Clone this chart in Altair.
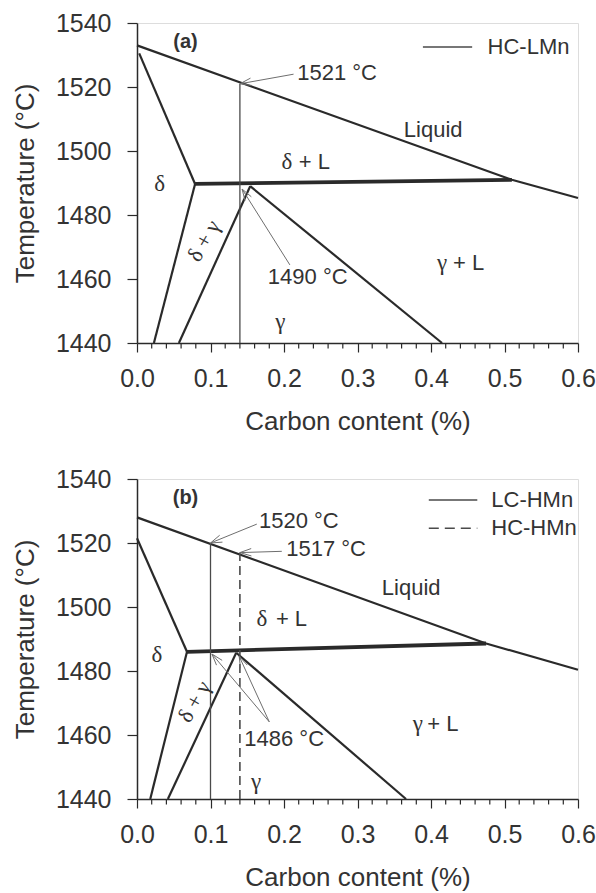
import math
import altair as alt
import pandas as pd

# ---- axes ---------------------------------------------------------------
C_MIN, C_MAX = 0.0, 0.6
T_MIN, T_MAX = 1440, 1540
PLOT_W, PLOT_H = 441, 320
X_MAJOR = [0.0, 0.1, 0.2, 0.3, 0.4, 0.5, 0.6]
X_MINOR = [0.02, 0.04, 0.06, 0.08, 0.12, 0.14, 0.16, 0.18, 0.22, 0.24, 0.26, 0.28,
           0.32, 0.34, 0.36, 0.38, 0.42, 0.44, 0.46, 0.48, 0.52, 0.54, 0.56, 0.58]
MINOR_TICK_DEPTH = 1.7  # in °C below the axis
Y_TICKS = [1440, 1450, 1460, 1470, 1480, 1490, 1500, 1510, 1520, 1530, 1540]

SANS = "Liberation Sans"
SERIF = "Liberation Serif"
INK = "#2a2a2a"
TEXT = "#333333"
THIN = "#6e6e6e"

# ---- panel (a): HC-LMn --------------------------------------------------
a_liquidus = [(0.0, 1533.0), (0.51, 1491.0), (0.6, 1485.3)]
a_delta_solidus = [(0.003, 1530.5), (0.079, 1489.7)]
a_delta_gamma_left = [(0.079, 1489.7), (0.023, 1440.0)]
a_delta_gamma_right = [(0.154, 1489.0), (0.057, 1440.0)]
a_gamma_solidus = [(0.154, 1489.0), (0.415, 1440.0)]
a_peritectic = [(0.079, 1489.7), (0.51, 1491.0)]
a_steels = [0.14]
a_steel_liquidus = [1521]
a_steel_dash = [False]
a_legend_names = ["HC-LMn"]
a_legend_t = [1532.5]

# ---- panel (b): LC-HMn and HC-HMn ---------------------------------------
b_liquidus = [(0.0, 1528.0), (0.475, 1488.6), (0.6, 1480.4)]
b_delta_solidus = [(0.0, 1521.5), (0.068, 1486.0)]
b_delta_gamma_left = [(0.068, 1486.0), (0.018, 1440.0)]
b_delta_gamma_right = [(0.135, 1485.7), (0.042, 1440.0)]
b_gamma_solidus = [(0.135, 1485.7), (0.366, 1440.0)]
b_peritectic = [(0.068, 1486.0), (0.475, 1488.6)]
b_steels = [0.10, 0.14]
b_steel_liquidus = [1520, 1517]
b_steel_dash = [False, True]
b_legend_names = ["LC-HMn", "HC-HMn"]
b_legend_t = [1533.4, 1524.6]

# value call-outs: text, text anchor (c, T), arrow tail, arrow heads
a_callouts = [
    ("1521 °C", (0.218, 1524.4), (0.213, 1524.0), [(0.14, 1521.0)]),
    ("1490 °C", (0.178, 1460.6), (0.208, 1464.4), [(0.143, 1488.1)]),
]
b_callouts = [
    ("1520 °C", (0.166, 1526.8), (0.163, 1525.9), [(0.10, 1520.0)]),
    ("1517 °C", (0.203, 1518.0), (0.197, 1517.4), [(0.14, 1517.0)]),
    ("1486 °C", (0.146, 1458.8), (0.180, 1464.1), [(0.102, 1485.3), (0.139, 1484.6)]),
]

# phase-field labels: (text, c, T)
a_centre_labels = [("Liquid", 0.403, 1506.6)]
a_sans_labels = [("+ L", 0.220, 1496.6), ("+ L", 0.430, 1465.0)]
a_greek_labels = [("δ", 0.204, 1496.6), ("δ", 0.031, 1489.7), ("γ", 0.195, 1446.6), ("γ", 0.415, 1465.0)]
a_rotated_labels = [("δ + γ", 0.091, 1471.9)]
b_centre_labels = [("Liquid", 0.373, 1505.8)]
b_sans_labels = [("+ L", 0.189, 1496.4), ("+ L", 0.395, 1463.5)]
b_greek_labels = [("δ", 0.170, 1496.4), ("δ", 0.027, 1485.1), ("γ", 0.162, 1445.3), ("γ", 0.382, 1463.5)]
b_rotated_labels = [("δ + γ", 0.078, 1470.4)]

PX_PER_C = PLOT_W / (C_MAX - C_MIN)
PX_PER_T = PLOT_H / (T_MAX - T_MIN)


def arrow_segments(tail, head, key):
    """Shaft plus an open V head, returned as (seg, order, c, t) rows."""
    rows = [(f"{key}s", 0, tail[0], tail[1]), (f"{key}s", 1, head[0], head[1])]
    dx = (tail[0] - head[0]) * PX_PER_C
    dy = -(tail[1] - head[1]) * PX_PER_T
    length = math.hypot(dx, dy)
    ux, uy = dx / length, dy / length
    for k, sign in enumerate((1, -1)):
        ang = math.radians(18) * sign
        rx = ux * math.cos(ang) - uy * math.sin(ang)
        ry = ux * math.sin(ang) + uy * math.cos(ang)
        px, py = rx * 12, ry * 12
        rows.append((f"{key}h{k}", 0, head[0], head[1]))
        rows.append((f"{key}h{k}", 1, head[0] + px / PX_PER_C, head[1] - py / PX_PER_T))
    return rows


def lines_frame(named):
    rows = []
    for name, pts in named.items():
        for i, (c, t) in enumerate(pts):
            rows.append({"seg": name, "i": i, "c": c, "t": t})
    return pd.DataFrame(rows)


def x_enc():
    return alt.X(
        "c:Q",
        scale=alt.Scale(domain=[C_MIN, C_MAX], nice=False, zero=False),
        axis=alt.Axis(
            title="Carbon content (%)", values=X_MAJOR, format=".1f",
            labelFontSize=25, titleFontSize=26, labelFont=SANS, titleFont=SANS,
            labelColor=TEXT, titleColor=TEXT, titleFontWeight="normal",
            tickSize=9, tickColor=INK, domainColor=INK, domainWidth=1.5, tickWidth=1.2,
            labelPadding=14, titlePadding=17, grid=False, labelFlush=False,
            labelOverlap=False,
        ),
    )


def y_enc():
    return alt.Y(
        "t:Q",
        scale=alt.Scale(domain=[T_MIN, T_MAX], nice=False, zero=False),
        axis=alt.Axis(
            title="Temperature (°C)", values=Y_TICKS, format="d",
            labelExpr="datum.value % 20 == 0 ? datum.label : ''",
            labelFontSize=25, titleFontSize=26, labelFont=SANS, titleFont=SANS,
            labelColor=TEXT, titleColor=TEXT, titleFontWeight="normal",
            tickSize=10, tickColor=INK, domainColor=INK, domainWidth=1.5, tickWidth=1.2,
            labelPadding=16, titlePadding=17, grid=False, labelFlush=False,
            labelOverlap=False,
        ),
    )


def panel(tag, boundaries, peritectic, steels, steel_liq, steel_dash,
          legend_names, legend_t, legend_c, callouts, centre_labels, sans_labels,
          greek_labels, rotated_labels):
    bnd = alt.Chart(lines_frame(boundaries)).mark_line(
        color=INK, strokeWidth=2.2).encode(x=x_enc(), y=y_enc(), detail="seg:N", order="i:Q")

    per = alt.Chart(lines_frame({"p": peritectic})).mark_line(
        color=INK, strokeWidth=3.8).encode(x="c:Q", y="t:Q", order="i:Q")

    steel_df = pd.DataFrame({"c": steels, "t0": [T_MIN] * len(steels),
                             "t": steel_liq, "dash": steel_dash})
    solid_steel = alt.Chart(steel_df[~steel_df.dash]).mark_rule(
        color="#4a4a4a", strokeWidth=1.3).encode(x="c:Q", y="t0:Q", y2="t:Q")
    dash_steel = alt.Chart(steel_df[steel_df.dash]).mark_rule(
        color="#4a4a4a", strokeWidth=1.6, strokeDash=[9, 5]).encode(x="c:Q", y="t0:Q", y2="t:Q")

    arrow_rows = []
    for n, (_, _, tail, heads) in enumerate(callouts):
        for m, head in enumerate(heads):
            arrow_rows += arrow_segments(tail, head, f"a{n}{m}")
    arr_df = pd.DataFrame(arrow_rows, columns=["seg", "i", "c", "t"])
    arrows = alt.Chart(arr_df).mark_line(color=THIN, strokeWidth=1).encode(
        x="c:Q", y="t:Q", detail="seg:N", order="i:Q")

    call_df = pd.DataFrame({"txt": [c[0] for c in callouts],
                            "c": [c[1][0] for c in callouts],
                            "t": [c[1][1] for c in callouts]})
    call_txt = alt.Chart(call_df).mark_text(
        align="left", baseline="middle", font=SANS, fontSize=22, color=TEXT
    ).encode(x="c:Q", y="t:Q", text="txt:N")

    leg_df = pd.DataFrame({"name": legend_names, "t": legend_t,
                           "c0": [legend_c[0]] * len(legend_names),
                           "c1": [legend_c[1]] * len(legend_names),
                           "ct": [legend_c[2]] * len(legend_names),
                           "dash": list(steel_dash)})
    leg_solid = alt.Chart(leg_df[~leg_df.dash]).mark_rule(
        color="#4a4a4a", strokeWidth=1.5).encode(x="c0:Q", x2="c1:Q", y="t:Q")
    leg_dash = alt.Chart(leg_df[leg_df.dash]).mark_rule(
        color="#4a4a4a", strokeWidth=1.5, strokeDash=[10, 6]).encode(x="c0:Q", x2="c1:Q", y="t:Q")
    leg_txt = alt.Chart(leg_df).mark_text(
        align="left", baseline="middle", font=SANS, fontSize=22, color=TEXT
    ).encode(x="ct:Q", y="t:Q", text="name:N")

    def lab(rows):
        return pd.DataFrame(rows, columns=["txt", "c", "t"])

    centre_txt = alt.Chart(lab(centre_labels)).mark_text(
        align="center", baseline="middle", font=SANS, fontSize=22, color=TEXT
    ).encode(x="c:Q", y="t:Q", text="txt:N")
    sans_txt = alt.Chart(lab(sans_labels)).mark_text(
        align="left", baseline="middle", font=SANS, fontSize=22, color=TEXT
    ).encode(x="c:Q", y="t:Q", text="txt:N")
    greek_txt = alt.Chart(lab(greek_labels)).mark_text(
        align="center", baseline="middle", font=SERIF, fontSize=23, color=TEXT
    ).encode(x="c:Q", y="t:Q", text="txt:N")
    rot_txt = alt.Chart(lab(rotated_labels)).mark_text(
        align="center", baseline="middle", font=SERIF, fontSize=22, color=TEXT, angle=300
    ).encode(x="c:Q", y="t:Q", text="txt:N")

    tag_txt = alt.Chart(pd.DataFrame({"txt": [tag], "c": [0.066], "t": [1534.0]})).mark_text(
        align="center", baseline="middle", font=SANS, fontSize=20, fontWeight="bold", color=TEXT
    ).encode(x="c:Q", y="t:Q", text="txt:N")

    # short minor ticks under the carbon axis, every 0.02 %
    minor_df = pd.DataFrame({"c": X_MINOR,
                             "t0": [T_MIN] * len(X_MINOR),
                             "t1": [T_MIN - MINOR_TICK_DEPTH] * len(X_MINOR)})
    minor = alt.Chart(minor_df).mark_rule(
        color=INK, strokeWidth=1.2, clip=False
    ).encode(x="c:Q", y="t0:Q", y2="t1:Q")

    return alt.layer(
        bnd, per, solid_steel, dash_steel, arrows, call_txt, leg_solid, leg_dash,
        leg_txt, centre_txt, sans_txt, greek_txt, rot_txt, tag_txt, minor,
    ).properties(width=PLOT_W, height=PLOT_H)


panel_a = panel(
    "(a)",
    {"liq": a_liquidus, "ds": a_delta_solidus, "dgl": a_delta_gamma_left,
     "dgr": a_delta_gamma_right, "gs": a_gamma_solidus},
    a_peritectic, a_steels, a_steel_liquidus, a_steel_dash,
    a_legend_names, a_legend_t, (0.389, 0.456, 0.477),
    a_callouts, a_centre_labels, a_sans_labels, a_greek_labels, a_rotated_labels,
)
panel_b = panel(
    "(b)",
    {"liq": b_liquidus, "ds": b_delta_solidus, "dgl": b_delta_gamma_left,
     "dgr": b_delta_gamma_right, "gs": b_gamma_solidus},
    b_peritectic, b_steels, b_steel_liquidus, b_steel_dash,
    b_legend_names, b_legend_t, (0.397, 0.463, 0.482),
    b_callouts, b_centre_labels, b_sans_labels, b_greek_labels, b_rotated_labels,
)

chart = alt.vconcat(panel_a, panel_b, spacing=31).properties(
    padding={"left": 11, "top": 10, "right": 0, "bottom": 3}
).configure_view(stroke=INK, strokeWidth=1.5).configure(background="white")

chart.save("out.html", embed_options={"renderer": "svg", "actions": False})
